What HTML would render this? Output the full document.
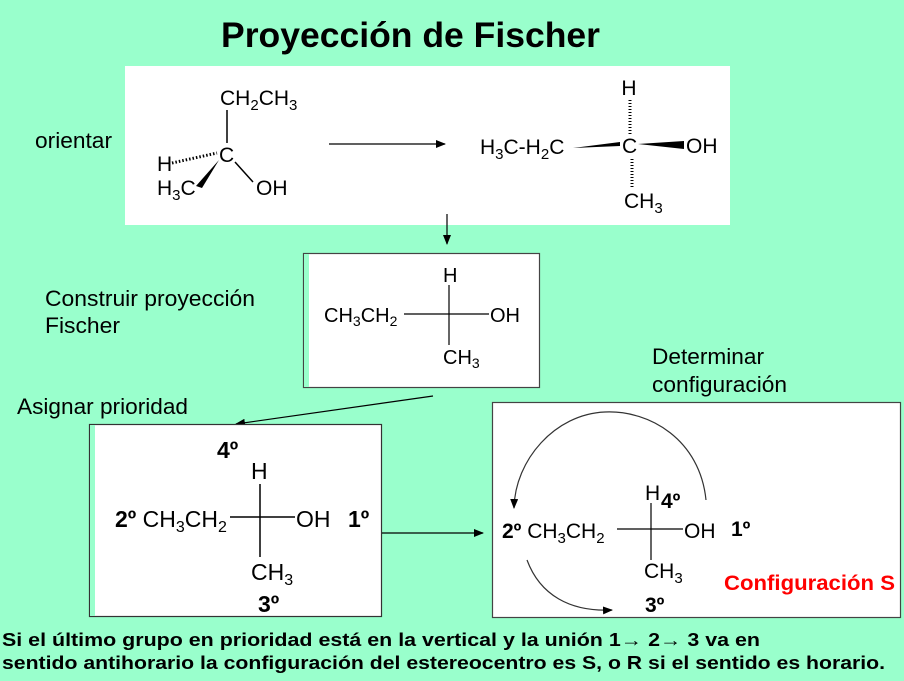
<!DOCTYPE html>
<html><head><meta charset="utf-8"><style>
html,body{margin:0;padding:0;background:#99FFCC;}
svg{display:block;font-family:"Liberation Sans",Arial,sans-serif;}
</style></head><body>
<svg width="904" height="681" viewBox="0 0 904 681" xmlns="http://www.w3.org/2000/svg">
<defs>
<marker id="ar" markerWidth="10" markerHeight="8" refX="9" refY="4" orient="auto" markerUnits="userSpaceOnUse"><path d="M0,0 L10,4 L0,8 z" fill="#000"/></marker>
</defs>
<rect width="904" height="681" fill="#99FFCC"/>
<text x="221" y="47" font-size="35" font-weight="bold" textLength="379" lengthAdjust="spacingAndGlyphs">Proyección de Fischer</text>

<!-- top box -->
<rect x="125" y="66" width="605" height="159" fill="#fff"/>
<text x="35" y="148" font-size="22" textLength="77" lengthAdjust="spacingAndGlyphs">orientar</text>
<g font-size="21">
<text x="220" y="105">CH<tspan font-size="15" dy="5">2</tspan><tspan dy="-5">CH</tspan><tspan font-size="15" dy="5">3</tspan></text>
<line x1="227" y1="110" x2="227" y2="143" stroke="#000" stroke-width="1.5"/>
<text x="219" y="162">C</text>
<text x="157" y="171">H</text>
<path d="M172 163 L217 153" stroke="#000" stroke-width="3" stroke-dasharray="1.5 2"/>
<polygon points="219,160 196,186 202,188" fill="#000"/>
<text x="157" y="195">H<tspan font-size="15" dy="5">3</tspan><tspan dy="-5">C</tspan></text>
<line x1="235" y1="162" x2="253" y2="182" stroke="#000" stroke-width="1.5"/>
<text x="256" y="195">OH</text>
</g>
<line x1="329" y1="144" x2="445" y2="144" stroke="#000" stroke-width="1.2" marker-end="url(#ar)"/>
<g font-size="21">
<text x="629" y="95" text-anchor="middle">H</text>
<path d="M630 100 L630 135" stroke="#000" stroke-width="3" stroke-dasharray="1 2"/>
<text x="480" y="154">H<tspan font-size="15" dy="5">3</tspan><tspan dy="-5">C-H</tspan><tspan font-size="15" dy="5">2</tspan><tspan dy="-5">C</tspan></text>
<polygon points="573,148 620,142 620,146" fill="#000"/>
<text x="622" y="153">C</text>
<polygon points="638,144 684,141 684,149" fill="#000"/>
<text x="686" y="153">OH</text>
<path d="M632 159 L632 188" stroke="#000" stroke-width="3" stroke-dasharray="1 2"/>
<text x="624" y="208">CH<tspan font-size="15" dy="5">3</tspan></text>
</g>
<line x1="447" y1="214" x2="447" y2="244" stroke="#000" stroke-width="1.2" marker-end="url(#ar)"/>

<!-- box2 -->
<rect x="303.5" y="253.5" width="236" height="134" fill="#fff" stroke="#444" stroke-width="1.2"/>
<rect x="304" y="254" width="5" height="133" fill="#99FFCC"/>
<text x="45" y="306" font-size="22" textLength="210" lengthAdjust="spacingAndGlyphs">Construir proyección</text>
<text x="45" y="333" font-size="22" textLength="75" lengthAdjust="spacingAndGlyphs">Fischer</text>
<g font-size="20">
<text x="443" y="282">H</text>
<line x1="449" y1="285" x2="449" y2="345" stroke="#000" stroke-width="1.2"/>
<text x="324" y="322">CH<tspan font-size="14" dy="4">3</tspan><tspan dy="-4">CH</tspan><tspan font-size="14" dy="4">2</tspan></text>
<line x1="404" y1="314" x2="489" y2="314" stroke="#000" stroke-width="1.2"/>
<text x="490" y="322">OH</text>
<text x="443" y="364">CH<tspan font-size="14" dy="4">3</tspan></text>
</g>

<line x1="433" y1="396" x2="236" y2="424" stroke="#000" stroke-width="1.2" marker-end="url(#ar)"/>
<text x="17" y="414" font-size="22" textLength="171" lengthAdjust="spacingAndGlyphs">Asignar prioridad</text>

<!-- box3 -->
<rect x="89.5" y="424.5" width="292" height="192" fill="#fff" stroke="#333" stroke-width="1.2"/>
<rect x="90" y="425" width="5" height="191" fill="#99FFCC"/>
<g font-size="23">
<text x="217" y="458" font-weight="bold">4º</text>
<text x="251" y="479">H</text>
<line x1="260" y1="484" x2="260" y2="557" stroke="#000" stroke-width="1.5"/>
<text x="115" y="527"><tspan font-weight="bold">2º</tspan> CH<tspan font-size="16" dy="5">3</tspan><tspan dy="-5">CH</tspan><tspan font-size="16" dy="5">2</tspan></text>
<line x1="230" y1="517" x2="295" y2="517" stroke="#000" stroke-width="1.5"/>
<text x="296" y="527">OH</text>
<text x="348" y="527" font-weight="bold">1º</text>
<text x="251" y="580">CH<tspan font-size="16" dy="5">3</tspan></text>
<text x="258" y="612" font-weight="bold">3º</text>
</g>
<line x1="382" y1="533" x2="483" y2="533" stroke="#000" stroke-width="1.2" marker-end="url(#ar)"/>

<!-- box4 -->
<text x="652" y="364" font-size="22" textLength="112" lengthAdjust="spacingAndGlyphs">Determinar</text>
<text x="652" y="392" font-size="22" textLength="135" lengthAdjust="spacingAndGlyphs">configuración</text>
<rect x="492.5" y="402.5" width="408" height="215" fill="#fff" stroke="#444" stroke-width="1.2"/>
<path d="M706 500 C700 440 650 410 605 412 C555 414 515 460 514 508" fill="none" stroke="#333" stroke-width="1.2" marker-end="url(#ar)"/>
<path d="M527 560 C540 595 570 612 612 610" fill="none" stroke="#333" stroke-width="1.2" marker-end="url(#ar)"/>
<g font-size="21">
<text x="645" y="500">H</text>
<text x="661" y="508" font-weight="bold">4º</text>
<line x1="651" y1="503" x2="651" y2="560" stroke="#000" stroke-width="1.2"/>
<text x="502" y="538"><tspan font-weight="bold">2º</tspan> CH<tspan font-size="15" dy="5">3</tspan><tspan dy="-5">CH</tspan><tspan font-size="15" dy="5">2</tspan></text>
<line x1="617" y1="529" x2="683" y2="529" stroke="#000" stroke-width="1.2"/>
<text x="684" y="538">OH</text>
<text x="731" y="536" font-weight="bold">1º</text>
<text x="644" y="578">CH<tspan font-size="15" dy="5">3</tspan></text>
<text x="645" y="612" font-weight="bold">3º</text>
</g>
<text x="724" y="590" font-size="21" font-weight="bold" fill="#FF0000" textLength="171" lengthAdjust="spacingAndGlyphs">Configuración S</text>

<text x="2" y="646" font-size="18" font-weight="bold" textLength="758" lengthAdjust="spacingAndGlyphs">Si el último grupo en prioridad está en la vertical y la unión 1→ 2→ 3 va en</text>
<text x="2" y="669" font-size="18" font-weight="bold" textLength="883" lengthAdjust="spacingAndGlyphs">sentido antihorario la configuración del estereocentro es S, o R si el sentido es horario.</text>
</svg>
</body></html>
